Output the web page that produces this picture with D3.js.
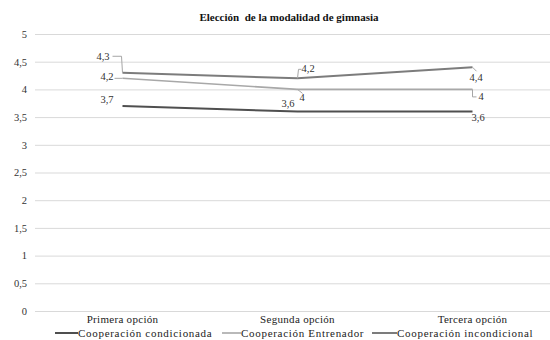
<!DOCTYPE html>
<html>
<head>
<meta charset="utf-8">
<script src="https://cdn.jsdelivr.net/npm/d3@7"></script>
</head>
<body style="margin:0;padding:0;background:#ffffff">
<svg id="chart" width="550" height="340"></svg>
<script>
// Categories, series and tick values
const categories = ["Primera opción", "Segunda opción", "Tercera opción"];
const seriesNames = ["Cooperación condicionada", "Cooperación Entrenador", "Cooperación incondicional"];
const condicionada = [3.7, 3.6, 3.6];
const entrenador = [4.2, 4.0, 4.0];
const incondicional = [4.3, 4.2, 4.4];
const yTicks = [0, 0.5, 1, 1.5, 2, 2.5, 3, 3.5, 4, 4.5, 5];
const title = "Elección  de la modalidad de gimnasia";

const FONT = '"Liberation Serif"';
const colors = ["#4f4f4f", "#a8a8a8", "#7c7c7c"];
const widths = [2, 1.6, 2];

// Label placement for every point: offset from the point, text anchor,
// and an optional leader path (offsets from the point).
const labelLayout = [
  [ {dx: -9, dy: -3.5, anchor: "end"},
    {dx: -3, dy: -5, anchor: "end"},
    {dx: -1, dy: 9, anchor: "start"} ],
  [ {dx: -9, dy: 2, anchor: "end", leader: [[0, 0], [-8, 0]]},
    {dx: 2, dy: 12, anchor: "start", leader: [[0, 0], [5, 4]]},
    {dx: 6, dy: 11, anchor: "start", leader: [[0, 0], [0, 7.5], [4, 7.5]]} ],
  [ {dx: -13, dy: -13, anchor: "end", leader: [[0, 0], [-1, -16.5], [-10, -16.5]]},
    {dx: 4, dy: -6, anchor: "start", leader: [[0, 0], [1, -9], [4, -9]]},
    {dx: -3, dy: 14, anchor: "start", leader: [[0, 0], [4, 4]]} ]
];

const series = [condicionada, entrenador, incondicional].map((values, i) => ({
  name: seriesNames[i], values, color: colors[i], width: widths[i], labels: labelLayout[i]
}));

const locale = d3.formatLocale({decimal: ",", thousands: ".", grouping: [3], currency: ["", " €"]});
const fmt = locale.format("~r");

const svg = d3.select("#chart").attr("font-family", FONT);
const margin = {left: 35, right: -10, top: 34, bottom: 29};
const W = 550, H = 340;

const x = d3.scaleBand().domain(categories).range([margin.left, W - margin.right]);
const y = d3.scaleLinear().domain([0, 5]).range([H - margin.bottom, margin.top]);
const cx = c => x(c) + x.bandwidth() / 2;

// Title
svg.append("text")
  .attr("x", 289).attr("y", 21)
  .attr("text-anchor", "middle")
  .attr("font-family", FONT)
  .attr("xml:space", "preserve")
  .style("white-space", "pre")
  .attr("font-size", 11).attr("font-weight", "bold").attr("fill", "#111")
  .text(title);

// Y axis with gridlines
const yAxis = svg.append("g")
  .attr("transform", `translate(${margin.left},0)`)
  .call(d3.axisLeft(y).tickValues(yTicks).tickFormat(fmt)
        .tickSize(-(W - margin.right - margin.left)).tickPadding(8));
yAxis.attr("font-family", FONT);
yAxis.select(".domain").remove();
yAxis.selectAll(".tick line").attr("stroke", "#d9d9d9").attr("stroke-width", 1);
yAxis.selectAll(".tick text")
  .attr("font-family", FONT)
  .attr("font-size", 10.5).attr("fill", "#333");

// X axis category labels
const xAxis = svg.append("g")
  .attr("transform", `translate(0,${H - margin.bottom})`)
  .call(d3.axisBottom(x).tickSize(0).tickPadding(4));
xAxis.attr("font-family", FONT);
xAxis.select(".domain").remove();
xAxis.selectAll(".tick text")
  .attr("font-family", FONT)
  .attr("font-size", 11).attr("letter-spacing", 0.3).attr("fill", "#222");

// Series lines
const line = d3.line().x((d, i) => cx(categories[i])).y(d => y(d));
svg.append("g").selectAll("path")
  .data(series)
  .join("path")
  .attr("fill", "none")
  .attr("stroke", d => d.color)
  .attr("stroke-width", d => d.width)
  .attr("d", d => line(d.values));

// Data labels with leader lines
series.forEach(s => {
  const g = svg.append("g");
  s.values.forEach((v, i) => {
    const px = cx(categories[i]), py = y(v);
    const lay = s.labels[i];
    if (lay.leader) {
      g.append("path")
        .attr("fill", "none")
        .attr("stroke", "#a6a6a6")
        .attr("stroke-width", 1)
        .attr("d", d3.line()(lay.leader.map(p => [px + p[0], py + p[1]])));
    }
    g.append("text")
      .attr("x", px + lay.dx).attr("y", py + lay.dy)
      .attr("text-anchor", lay.anchor)
      .attr("font-family", FONT)
      .attr("font-size", 10.5).attr("fill", "#333")
      .text(fmt(v));
  });
});

// Legend
const legendX = [55, 222, 372];
const legendSwatch = [23, 19, 25];
const legend = svg.append("g").attr("transform", "translate(0,333)");
series.forEach((s, i) => {
  const item = legend.append("g").attr("transform", `translate(${legendX[i]},0)`);
  item.append("line")
    .attr("x1", 0).attr("x2", legendSwatch[i])
    .attr("y1", 0).attr("y2", 0)
    .attr("stroke", s.color).attr("stroke-width", s.width);
  item.append("text")
    .attr("x", legendSwatch[i]).attr("y", 3.5)
    .attr("font-family", FONT)
    .attr("font-size", 11).attr("letter-spacing", 0.7).attr("fill", "#222")
    .text(s.name);
});
</script>
</body>
</html>
